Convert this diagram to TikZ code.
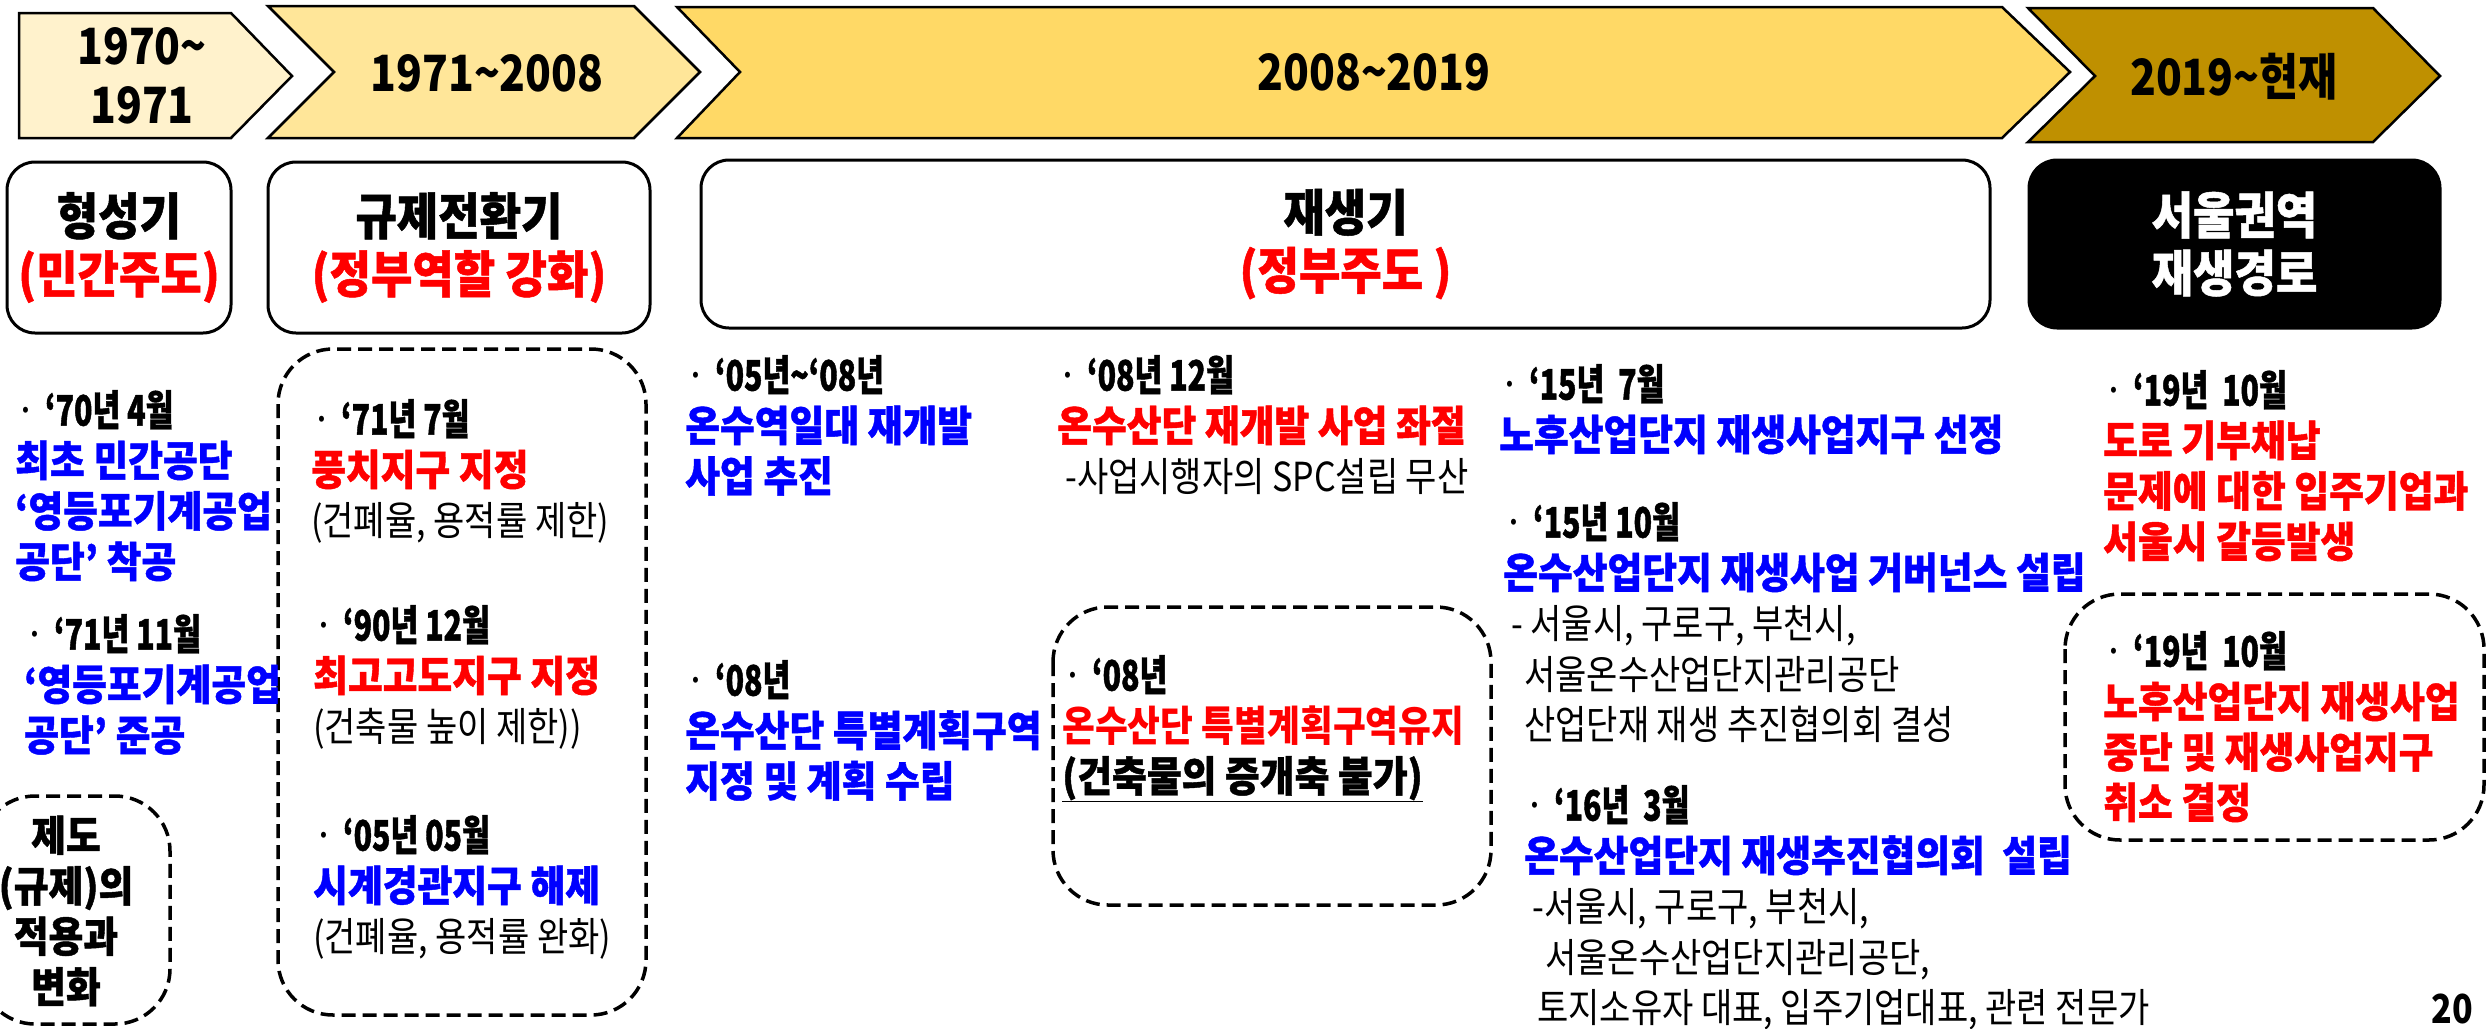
\documentclass[tikz,border=0pt]{standalone}
\usepackage{fontspec}
\newfontfamily\krfont{Noto Sans CJK KR}[FakeStretch=0.85]
\newfontfamily\krwide{Noto Sans CJK KR}[FakeStretch=0.9, BoldFeatures={FakeBold=1}]
\newfontfamily\krdate{Noto Sans CJK KR}[FakeStretch=0.72, BoldFeatures={FakeBold=1}]

\definecolor{stageone}{HTML}{FFF2CC}
\definecolor{stagetwo}{HTML}{FFE699}
\definecolor{stagethree}{HTML}{FFD966}
\definecolor{stagefour}{HTML}{BF9000}
\definecolor{krblue}{HTML}{0000FF}
\definecolor{krred}{HTML}{FF0000}

% date line and plain line inside an event
\newcommand\when[1]{{\mdseries ·}\ {\krdate #1}}
\newcommand\plainline[1]{{\krfont\mdseries\fontsize{40}{50.5}\selectfont #1}}

\tikzset{
  stagearrow/.style={draw=black, line width=2.5pt},
  yeartext/.style={align=center, inner sep=0pt, font=\krfont\bfseries\fontsize{50}{59}\selectfont},
  phasebox/.style={draw=black, line width=3pt, rounded corners=28pt, align=center, inner sep=0pt,
    font=\krwide\bfseries\fontsize{50}{58}\selectfont},
  groupbox/.style={draw=black, line width=3.5pt, dash pattern=on 14pt off 7pt, rounded corners=55pt},
  event/.style={anchor=north west, align=left, inner sep=0pt, font=\krwide\bfseries\fontsize{42}{50.5}\selectfont},
}

\begin{document}
\begin{tikzpicture}[x=1pt, y=-1pt]
    \useasboundingbox (0,0) rectangle (2489,1028);

    % Stage arrows
    \draw[stagearrow, fill=stageone] (19,13) -- (231,13) -- (292,76) -- (231,138) -- (19,138) -- cycle;
    \draw[stagearrow, fill=stagetwo] (268,6) -- (634,6) -- (700,72) -- (634,138) -- (268,138) -- (334,72) -- cycle;
    \draw[stagearrow, fill=stagethree] (677,7) -- (2002,7) -- (2070,72) -- (2002,138) -- (677,138) -- (740,72) -- cycle;
    \draw[stagearrow, fill=stagefour] (2028,8) -- (2373,8) -- (2440,76) -- (2373,142) -- (2028,142) -- (2095,76) -- cycle;
    \node[yeartext] (y1970) at (142,76) {1970\textasciitilde{}\\1971};
    \node[yeartext] (y1971) at (487,73) {1971\textasciitilde{}2008};
    \node[yeartext] (y2008) at (1374,72) {2008\textasciitilde{}2019};
    \node[yeartext] (y2019) at (2234,77) {2019\textasciitilde{}현재};

    % Phase boxes
    \node[phasebox, minimum width=224pt, minimum height=171pt] (formation) at (119,247.5) {형성기\\\textcolor{krred}{(민간주도)}};
    \node[phasebox, minimum width=382pt, minimum height=171pt] (shift) at (459,247.5) {규제전환기\\\textcolor{krred}{(정부역할 강화)}};
    \node[phasebox, minimum width=1289pt, minimum height=168pt] (renewal) at (1345.5,244) {재생기\\\textcolor{krred}{(정부주도 )}};
    \node[phasebox, fill=black, text=white, minimum width=411pt, minimum height=168pt] (seoul) at (2234.5,244) {서울권역\\재생경로};

    % Dashed groups
    \draw[groupbox] (-20,796) rectangle (170,1024);
    \draw[groupbox] (278,349) rectangle (646,1015);
    \draw[groupbox] (1053,607) rectangle (1491,905);
    \draw[groupbox] (2065,594) rectangle (2484,840);

    % 1970~1971
    \node[event] (e7004) at (15,390) {\when{‘70년 4월}\\\textcolor{krblue}{최초 민간공단}\\\textcolor{krblue}{‘영등포기계공업}\\\textcolor{krblue}{공단’ 착공}};
    \node[event] (e7111) at (24,614) {\when{‘71년 11월}\\\textcolor{krblue}{‘영등포기계공업}\\\textcolor{krblue}{공단’ 준공}};
    \node[align=center, inner sep=0pt, font=\krwide\bfseries\fontsize{42}{50.5}\selectfont] (rule) at (66,911) {제도\\(규제)의\\적용과\\변화};

    % 1971~2008
    \node[event] (e7107) at (311,399) {\when{‘71년 7월}\\\textcolor{krred}{풍치지구 지정}\\\plainline{(건폐율, 용적률 제한)}};
    \node[event] (e9012) at (313,605) {\when{‘90년 12월}\\\textcolor{krred}{최고고도지구 지정}\\\plainline{(건축물 높이 제한))}};
    \node[event] (e0505) at (313,815) {\when{‘05년 05월}\\\textcolor{krblue}{시계경관지구 해제}\\\plainline{(건폐율, 용적률 완화)}};

    % 2008~2019
    \node[event] (e0508) at (685,355) {\when{‘05년\textasciitilde{}‘08년}\\\textcolor{krblue}{온수역일대 재개발}\\\textcolor{krblue}{사업 추진}};
    \node[event] (e08a) at (685,660) {\when{‘08년}\\\textcolor{krblue}{온수산단 특별계획구역}\\\textcolor{krblue}{지정 및 계획 수립}};
    \node[event] (e0812) at (1057,355) {\when{‘08년 12월}\\\textcolor{krred}{온수산단 재개발 사업 좌절}\\\hspace*{8pt}\plainline{-사업시행자의 SPC설립 무산}};
    \node[event] (e08b) at (1062,655) {\when{‘08년}\\{\krfont\textcolor{krred}{온수산단 특별계획구역유지}}\\\underline{(건축물의 증개축 불가)}};
    \node[event] (e1507) at (1499,364) {\when{‘15년 \ 7월}\\\textcolor{krblue}{노후산업단지 재생사업지구 선정}};
    \node[event] (e1510) at (1503,502) {\when{‘15년 10월}\\\textcolor{krblue}{온수산업단지 재생사업 거버넌스 설립}\\\hspace*{8pt}\plainline{- 서울시, 구로구, 부천시,}\\\hspace*{21pt}\plainline{서울온수산업단지관리공단}\\\hspace*{21pt}\plainline{산업단재 재생 추진협의회 결성}};
    \node[event] (e1603) at (1524,785) {\when{‘16년 \ 3월}\\\textcolor{krblue}{온수산업단지 재생추진협의회 \ 설립}\\\hspace*{8pt}\plainline{-서울시, 구로구, 부천시,}\\\hspace*{21pt}\plainline{서울온수산업단지관리공단,}\\\hspace*{13pt}\plainline{토지소유자 대표, 입주기업대표, 관련 전문가}};

    % 2019~
    \node[event] (e1910a) at (2103,370) {\when{‘19년 \ 10월}\\\textcolor{krred}{도로 기부채납}\\\textcolor{krred}{문제에 대한 입주기업과}\\\textcolor{krred}{서울시 갈등발생}};
    \node[event] (e1910b) at (2103,631) {\when{‘19년 \ 10월}\\\textcolor{krred}{노후산업단지 재생사업}\\\textcolor{krred}{중단 및 재생사업지구}\\\textcolor{krred}{취소 결정}};

    \node[inner sep=0pt, font=\krfont\bfseries\fontsize{40}{48}\selectfont] (page) at (2452,1009) {20};
\end{tikzpicture}
\end{document}
